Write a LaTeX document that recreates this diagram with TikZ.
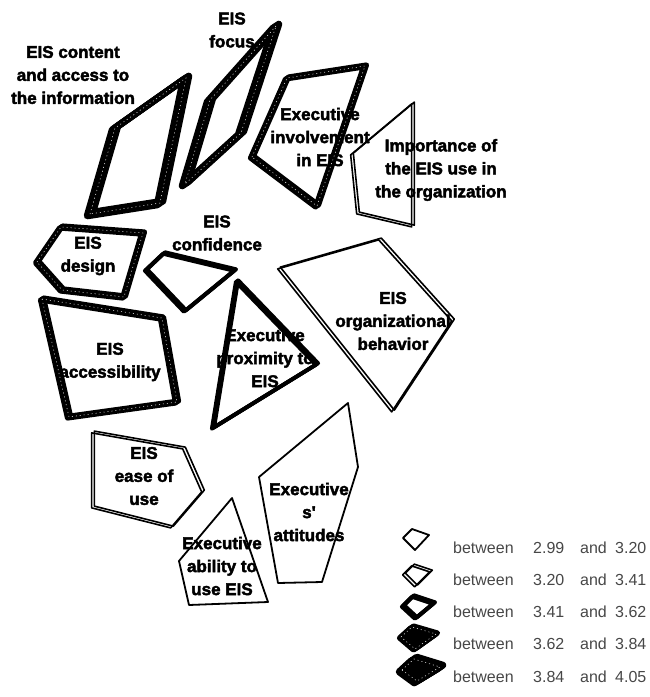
\documentclass[tikz,border=0pt]{standalone}
\usepackage{fontspec}
\setmainfont{Liberation Sans}
\newfontfamily\labelfont[FakeBold=2.5]{Liberation Sans Bold}
% Stacked outline: #1 = tier (1..5), #2 = closed polygon path.
% Higher tiers repeat a heavier outline with a small offset, giving a thicker band.
\newcommand{\tier}[2]{%
  \ifcase#1\or\def\tiercount{1}\def\tiergap{0}\def\tierwidth{1.8}%
  \or\def\tiercount{2}\def\tiergap{3.2}\def\tierwidth{1.6}%
  \or\def\tiercount{3}\def\tiergap{1.4}\def\tierwidth{3.8}%
  \or\def\tiercount{3}\def\tiergap{1.8}\def\tierwidth{5.2}%
  \or\def\tiercount{4}\def\tiergap{2.2}\def\tierwidth{7}\fi
  \foreach \k in {1,...,\tiercount}{%
    \pgfmathsetmacro\tieroff{(\k-(\tiercount+1)/2)*\tiergap}%
    \draw[outline,line width=\tierwidth pt,shift={({0.83*\tieroff},{-0.55*\tieroff})}] #2 -- cycle;}%
  \ifnum#1>3 \draw[grain] #2 -- cycle;\fi}
% Legend swatch: a tiered outline whose inside is filled for the top tiers.
\newcommand{\swatch}[2]{%
  \ifnum#1>3 \fill[black] #2 -- cycle;\fi
  \tier{#1}{#2}}
\begin{document}
\begin{tikzpicture}[x=1pt,y=-1pt,
  outline/.style={draw=black,line join=round},
  grain/.style={draw=white,line width=0.5pt,dash pattern=on 1pt off 3pt},
  label/.style={font=\labelfont\fontsize{17}{23}\selectfont,align=center,inner sep=0pt,text=black},
  legtext/.style={font=\fontsize{16}{19}\selectfont,text=black!72,anchor=west,inner sep=0pt}]
\useasboundingbox (0,0) rectangle (649,697);

% labels
\node[label] (content)    at (73,75)   {EIS content\\and access to\\the information};
\node[label] (focus)      at (232,30)  {EIS\\focus};
\node[label] (involve)    at (320,137) {Executive\\involvement\\in EIS};
\node[label] (importance) at (441,170) {Importance of\\the EIS use in\\the organization};
\node[label] (design)     at (88,256)  {EIS\\design};
\node[label] (confidence) at (217,233) {EIS\\confidence};
\node[label] (access)     at (110,362) {EIS\\accessibility};
\node[label] (proximity)  at (265,358) {Executive\\proximity to\\EIS};
\node[label] (orgbeh)     at (393,321) {EIS\\organizational\\behavior};
\node[label] (ease)       at (144,476) {EIS\\ease of\\use};
\node[label] (attitudes)  at (309,512) {Executive\\s'\\attitudes};
\node[label] (ability)    at (222,566) {Executive\\ability to\\use EIS};

% outlined regions
\tier{5}{(90,214) -- (115,128) -- (186,78) -- (160,203)}
\tier{5}{(276,26) -- (210,100) -- (185,184) -- (241,133)}
\tier{4}{(252,157) -- (287,78) -- (365,66) -- (317,206)}
\tier{2}{(413,103) -- (352,154) -- (358,213) -- (413,226)}
\tier{4}{(37,262) -- (61,227) -- (143,233) -- (124,297) -- (62,290)}
\tier{3}{(146,270) -- (164,253) -- (235,270) -- (185,311)}
\tier{4}{(42,299) -- (162,318) -- (177,402) -- (69,417)}
\tier{3}{(237,281) -- (317,364) -- (213,428)}
\tier{2}{(279,268) -- (380,239) -- (453,320) -- (393,411)}
\tier{2}{(93,432) -- (184,448) -- (203,491) -- (172,527) -- (93,507)}
\tier{1}{(232,498) -- (179,561) -- (189,605) -- (268,602)}
\tier{1}{(259,477) -- (348,403) -- (358,467) -- (322,582) -- (278,583)}

% legend
\begin{scope}[shift={(403,529)}]\swatch{1}{(0,9) -- (9,0) -- (26,6) -- (12,21)}\end{scope}
\begin{scope}[shift={(404,565)}]\swatch{2}{(0,9) -- (9,0) -- (27,6) -- (12,21)}\end{scope}
\begin{scope}[shift={(403,596)}]\swatch{3}{(0,10) -- (10,0) -- (31,7) -- (13,22)}\end{scope}
\begin{scope}[shift={(401,627)}]\swatch{4}{(0,10) -- (11,0) -- (35,7) -- (14,22)}\end{scope}
\begin{scope}[shift={(402,659)}]\swatch{5}{(0,11) -- (12,0) -- (38,8) -- (15,22)}\end{scope}

\node[legtext] (b1) at (453,548) {between}; \node[legtext] (l1) at (533,548) {2.99}; \node[legtext] (a1) at (580,548) {and}; \node[legtext] (h1) at (615,548) {3.20};
\node[legtext] (b2) at (453,580) {between}; \node[legtext] (l2) at (533,580) {3.20}; \node[legtext] (a2) at (580,580) {and}; \node[legtext] (h2) at (615,580) {3.41};
\node[legtext] (b3) at (453,612) {between}; \node[legtext] (l3) at (533,612) {3.41}; \node[legtext] (a3) at (580,612) {and}; \node[legtext] (h3) at (615,612) {3.62};
\node[legtext] (b4) at (453,644) {between}; \node[legtext] (l4) at (533,644) {3.62}; \node[legtext] (a4) at (580,644) {and}; \node[legtext] (h4) at (615,644) {3.84};
\node[legtext] (b5) at (453,677) {between}; \node[legtext] (l5) at (533,677) {3.84}; \node[legtext] (a5) at (580,677) {and}; \node[legtext] (h5) at (615,677) {4.05};
\end{tikzpicture}
\end{document}
